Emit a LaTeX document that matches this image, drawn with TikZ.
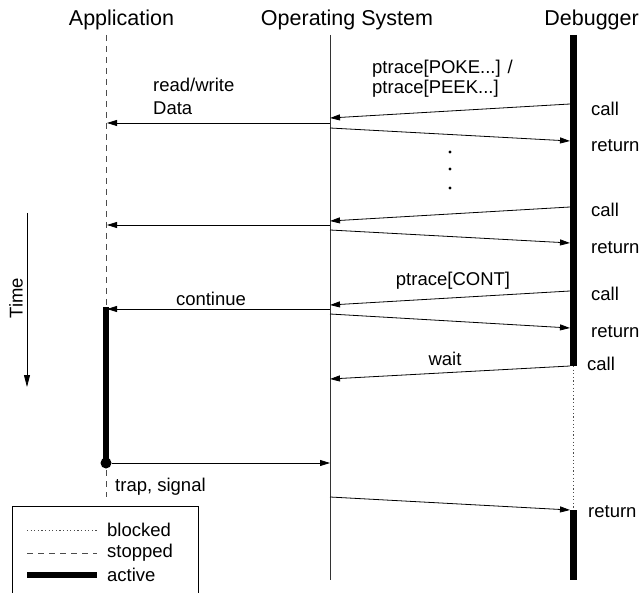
\documentclass[tikz,border=0pt]{standalone}
\usepackage{fontspec}
\setmainfont{Liberation Sans}
\usetikzlibrary{arrows.meta}
\begin{document}
\begin{tikzpicture}[x=1pt,y=-1pt,
  msg/.style={line width=0.8pt, -{Triangle[length=10pt,width=6pt]}},
  lifeline/.style={line width=0.8pt, black!80},
  stoppedline/.style={line width=0.8pt, dash pattern=on 6pt off 5pt, black!70},
  blockedline/.style={line width=0.9pt, dash pattern=on 1.2pt off 2.4pt, black!70},
  activeline/.style={line width=6.5pt},
  title/.style={font=\fontsize{21.5}{24}\selectfont, anchor=base, inner sep=0},
  lbl/.style={font=\fontsize{18.5}{22}\selectfont, inner sep=0},
  pt/.style={circle, fill, inner sep=0, minimum size=3.2pt},
]
\useasboundingbox (0,0) rectangle (639,593);

% titles
\node[title] (tapp) at (121.5,26) {Application};
\node[title] (tos) at (347,26) {Operating System};
\node[title, anchor=base east] (tdbg) at (639,26) {Debugger};

% lifelines
\coordinate (a0) at (106,35);
\coordinate (a1) at (106,307);
\coordinate (a2) at (106,463);
\coordinate (o0) at (330,35);
\coordinate (o1) at (330,580);
\coordinate (d0) at (573.5,35);
\coordinate (d1) at (573.5,366);
\coordinate (d2) at (573.5,510);
\coordinate (d3) at (573.5,580);

\draw[stoppedline] (a0) -- (a1);
\draw[activeline] (a1) -- (a2);
\draw[stoppedline] (106,470) -- (106,497);
\draw[lifeline] (o0) -- (o1);
\draw[activeline] (d0) -- (d1);
\draw[blockedline] (d1) -- (d2);
\draw[activeline] (d2) -- (d3);
\node[circle, fill, inner sep=0, minimum size=11pt] (dot) at (a2) {};

% first exchange
\coordinate (c1s) at (570,104);  \coordinate (c1e) at (330,118);
\coordinate (w1s) at (330,123);  \coordinate (w1e) at (107,123);
\coordinate (r1s) at (330,128);  \coordinate (r1e) at (570,141);
\draw[msg] (c1s) -- (c1e);
\draw[msg] (w1s) -- (w1e);
\draw[msg] (r1s) -- (r1e);
\node[lbl, anchor=west] (lp1) at (372,69) {ptrace[POKE...] /};
\node[lbl, anchor=west] (lp2) at (372,89) {ptrace[PEEK...]};
\node[lbl, anchor=west] (lrw) at (153,85) {read/write};
\node[lbl, anchor=west] (ldata) at (153,108) {Data};
\node[lbl, anchor=west] (lc1) at (591,109) {call};
\node[lbl, anchor=west] (lr1) at (591,146) {return};

% ellipsis
\node[pt] (e1) at (450,152) {};
\node[pt] (e2) at (450,169) {};
\node[pt] (e3) at (450,188) {};

% second exchange
\coordinate (c2s) at (570,207);  \coordinate (c2e) at (330,221);
\coordinate (w2s) at (330,225);  \coordinate (w2e) at (107,225);
\coordinate (r2s) at (330,230);  \coordinate (r2e) at (570,243);
\draw[msg] (c2s) -- (c2e);
\draw[msg] (w2s) -- (w2e);
\draw[msg] (r2s) -- (r2e);
\node[lbl, anchor=west] (lc2) at (591,210) {call};
\node[lbl, anchor=west] (lr2) at (591,248) {return};

% continue
\coordinate (c3s) at (570,291);  \coordinate (c3e) at (330,305);
\coordinate (w3s) at (330,309);  \coordinate (w3e) at (107,309);
\coordinate (r3s) at (330,314);  \coordinate (r3e) at (570,328);
\draw[msg] (c3s) -- (c3e);
\draw[msg] (w3s) -- (w3e);
\draw[msg] (r3s) -- (r3e);
\node[lbl] (lcont) at (453,281) {ptrace[CONT]};
\node[lbl] (lcontinue) at (211,299) {continue};
\node[lbl, anchor=west] (lc3) at (591,294) {call};
\node[lbl, anchor=west] (lr3) at (591,332) {return};

% wait
\coordinate (c4s) at (570,366);  \coordinate (c4e) at (330,379);
\draw[msg] (c4s) -- (c4e);
\node[lbl] (lwait) at (445,359) {wait};
\node[lbl, anchor=west] (lc4) at (587,364) {call};

% trap
\coordinate (t1e) at (330,463);
\draw[msg] (dot) -- (t1e);
\node[lbl, anchor=west] (ltrap) at (115,487) {trap, signal};

% final return
\coordinate (r4s) at (330,497);  \coordinate (r4e) at (570,510);
\draw[msg] (r4s) -- (r4e);
\node[lbl, anchor=west] (lr4) at (588,512) {return};

% time arrow
\coordinate (ts) at (27,213);
\coordinate (te) at (27,387);
\draw[line width=0.8pt, -{Triangle[length=12pt,width=6pt]}] (ts) -- (te);
\node[lbl, rotate=90] (ltime) at (16,298) {Time};

% legend
\draw[line width=0.8pt] (12.5,594) -- (12.5,506) -- (198,506) -- (198,594);
\coordinate (lg1a) at (27,530); \coordinate (lg1b) at (97,530);
\coordinate (lg2a) at (27,553); \coordinate (lg2b) at (97,553);
\coordinate (lg3a) at (27,575); \coordinate (lg3b) at (97,575);
\draw[blockedline] (lg1a) -- (lg1b);
\draw[stoppedline] (lg2a) -- (lg2b);
\draw[activeline] (lg3a) -- (lg3b);
\node[lbl, anchor=west] (lblocked) at (107,530) {blocked};
\node[lbl, anchor=west] (lstopped) at (107,553) {stopped};
\node[lbl, anchor=west] (lactive) at (107,575) {active};
\end{tikzpicture}
\end{document}
